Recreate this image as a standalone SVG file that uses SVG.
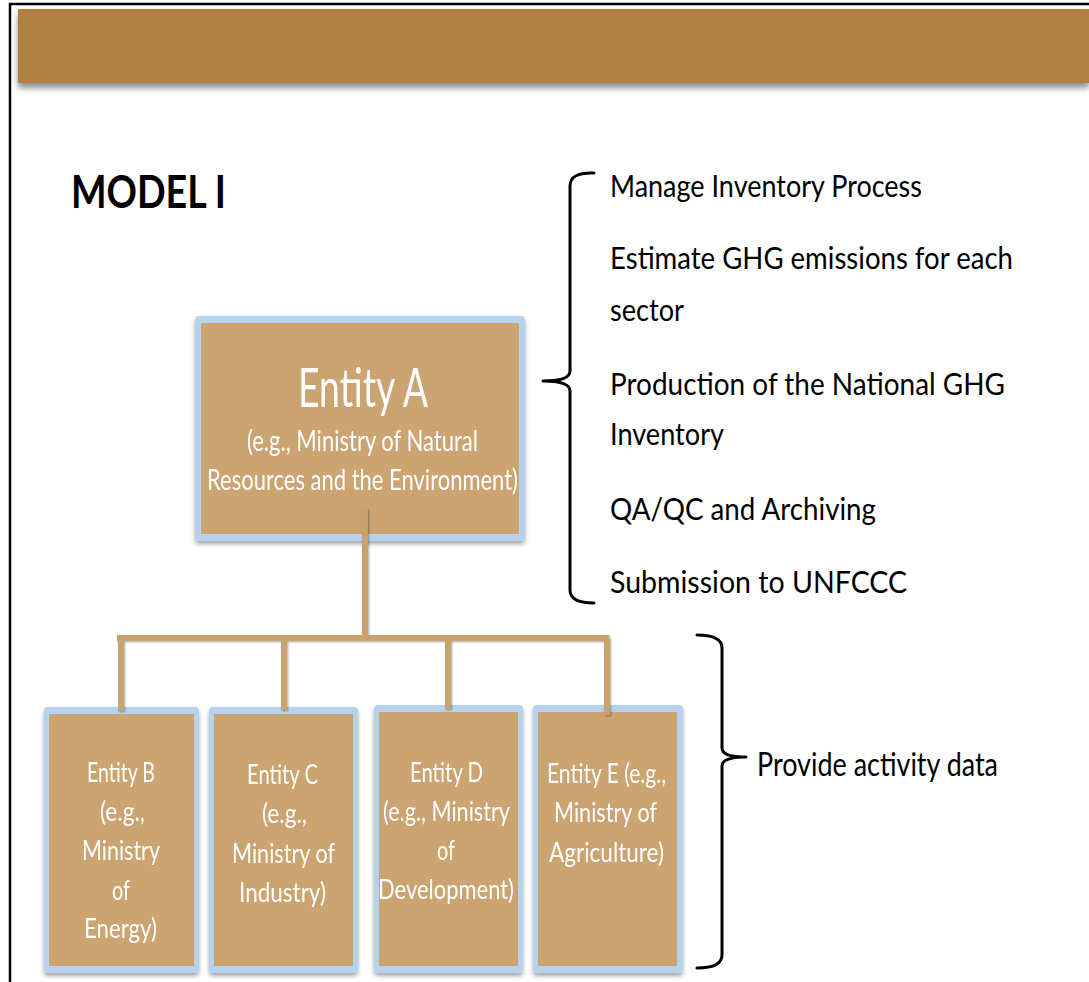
<svg xmlns="http://www.w3.org/2000/svg" width="1089" height="982" viewBox="0 0 1089 982">
<style>
.frame{stroke:#000;stroke-width:2.5;fill:none}
.outer{fill:#b6d3ee}
.inner{fill:#cba472}
.wt{fill:#fff;font-family:Lato,"Liberation Sans",sans-serif}
.bt{fill:#000;font-family:Lato,"Liberation Sans",sans-serif}
.brace{fill:none;stroke:#000;stroke-width:3;stroke-linecap:round;stroke-linejoin:round}
.conn{fill:none;stroke:#c9a36e;stroke-width:6;stroke-linecap:butt}
</style>
<defs>
<filter id="sh" x="-10%" y="-10%" width="130%" height="130%">
<feDropShadow dx="0" dy="3" stdDeviation="2" flood-color="#000" flood-opacity="0.35"/>
</filter>
<filter id="bandsh" x="-5%" y="-20%" width="110%" height="160%">
<feDropShadow dx="0" dy="5" stdDeviation="3" flood-color="#000" flood-opacity="0.45"/>
</filter>
<filter id="csh" x="-20%" y="-20%" width="140%" height="140%">
<feDropShadow dx="1" dy="1" stdDeviation="0.8" flood-color="#000" flood-opacity="0.35"/>
</filter>
</defs>
<rect width="1089" height="982" fill="#fff"/>
<path class="frame" d="M10 982 V4 H1089"/>
<rect id="header" x="18" y="9" width="1071" height="74" fill="#b08043" filter="url(#bandsh)"/>
<text id="title" class="bt" x="71" y="208" font-size="45" font-weight="bold" textLength="155" lengthAdjust="spacingAndGlyphs">MODEL I</text>

<g id="entityA" filter="url(#sh)">
<rect class="outer" x="195" y="316" width="330" height="225" rx="4"/>
<rect class="inner" x="201" y="323" width="318" height="211"/>
<text class="wt" x="298" y="407" font-size="54" textLength="130" lengthAdjust="spacingAndGlyphs">Entity A</text>
<text class="wt" x="247" y="451" font-size="29" textLength="231" lengthAdjust="spacingAndGlyphs">(e.g., Ministry of Natural</text>
<text class="wt" x="207" y="490" font-size="29" textLength="311" lengthAdjust="spacingAndGlyphs">Resources and the Environment)</text>
</g>

<g id="entityB" filter="url(#sh)">
<rect class="outer" x="44" y="707" width="155" height="266" rx="4"/>
<rect class="inner" x="49" y="714" width="145" height="252"/>
<text class="wt" x="87" y="782" font-size="27" textLength="68" lengthAdjust="spacingAndGlyphs">Entity B</text>
<text class="wt" x="100" y="821" font-size="27" textLength="45" lengthAdjust="spacingAndGlyphs">(e.g.,</text>
<text class="wt" x="82" y="860" font-size="27" textLength="78" lengthAdjust="spacingAndGlyphs">Ministry</text>
<text class="wt" x="112" y="900" font-size="27" textLength="18" lengthAdjust="spacingAndGlyphs">of</text>
<text class="wt" x="84" y="938" font-size="27" textLength="73" lengthAdjust="spacingAndGlyphs">Energy)</text>
</g>

<g id="entityC" filter="url(#sh)">
<rect class="outer" x="209" y="707" width="149" height="266" rx="4"/>
<rect class="inner" x="214" y="714" width="139" height="252"/>
<text class="wt" x="247" y="784" font-size="27" textLength="71" lengthAdjust="spacingAndGlyphs">Entity C</text>
<text class="wt" x="262" y="823" font-size="27" textLength="45" lengthAdjust="spacingAndGlyphs">(e.g.,</text>
<text class="wt" x="232" y="863" font-size="27" textLength="103" lengthAdjust="spacingAndGlyphs">Ministry of</text>
<text class="wt" x="239" y="902" font-size="27" textLength="87" lengthAdjust="spacingAndGlyphs">Industry)</text>
</g>

<g id="entityD" filter="url(#sh)">
<rect class="outer" x="374" y="705" width="149" height="268" rx="4"/>
<rect class="inner" x="379" y="712" width="139" height="254"/>
<text class="wt" x="410" y="782" font-size="27" textLength="73" lengthAdjust="spacingAndGlyphs">Entity D</text>
<text class="wt" x="383" y="821" font-size="27" textLength="127" lengthAdjust="spacingAndGlyphs">(e.g., Ministry</text>
<text class="wt" x="437" y="860" font-size="27" textLength="18" lengthAdjust="spacingAndGlyphs">of</text>
<text class="wt" x="378" y="899" font-size="27" textLength="136" lengthAdjust="spacingAndGlyphs">Development)</text>
</g>

<g id="entityE" filter="url(#sh)">
<rect class="outer" x="533" y="705" width="150" height="268" rx="4"/>
<rect class="inner" x="538" y="712" width="139" height="254"/>
<text class="wt" x="547" y="783" font-size="27" textLength="119" lengthAdjust="spacingAndGlyphs">Entity E (e.g.,</text>
<text class="wt" x="554" y="822" font-size="27" textLength="103" lengthAdjust="spacingAndGlyphs">Ministry of</text>
<text class="wt" x="549" y="862" font-size="27" textLength="115" lengthAdjust="spacingAndGlyphs">Agriculture)</text>
</g>

<g id="connectors" filter="url(#csh)">
<path class="conn" d="M365 508 V638"/>
<path class="conn" d="M117 638 H609"/>
<path class="conn" d="M121 638 V711"/>
<path class="conn" d="M284 638 V710"/>
<path class="conn" d="M448 638 V709"/>
<path class="conn" d="M607 638 V715"/>
</g>

<g id="braceTop">
<path class="brace" d="M594 173 Q570 172 570 186 L570 371 Q570 381 543 381 Q570 381 570 391 L570 590 Q570 603 594 603"/>
</g>
<g id="tasks">
<text class="bt" x="610" y="197" font-size="31" textLength="312" lengthAdjust="spacingAndGlyphs">Manage Inventory Process</text>
<text class="bt" x="610" y="269" font-size="31" textLength="403" lengthAdjust="spacingAndGlyphs">Estimate GHG emissions for each</text>
<text class="bt" x="610" y="321" font-size="31" textLength="74" lengthAdjust="spacingAndGlyphs">sector</text>
<text class="bt" x="610" y="395" font-size="31" textLength="395" lengthAdjust="spacingAndGlyphs">Production of the National GHG</text>
<text class="bt" x="610" y="445" font-size="31" textLength="114" lengthAdjust="spacingAndGlyphs">Inventory</text>
<text class="bt" x="610" y="520" font-size="31" textLength="266" lengthAdjust="spacingAndGlyphs">QA/QC and Archiving</text>
<text class="bt" x="610" y="593" font-size="31" textLength="297" lengthAdjust="spacingAndGlyphs">Submission to UNFCCC</text>
</g>

<g id="braceBottom">
<path class="brace" d="M697 635 Q722 635 722 648 L722 748 Q722 757 746 757 Q722 757 722 766 L722 955 Q722 968 697 968"/>
</g>
<text id="provide" class="bt" x="757" y="776" font-size="32" textLength="241" lengthAdjust="spacingAndGlyphs">Provide activity data</text>
</svg>
